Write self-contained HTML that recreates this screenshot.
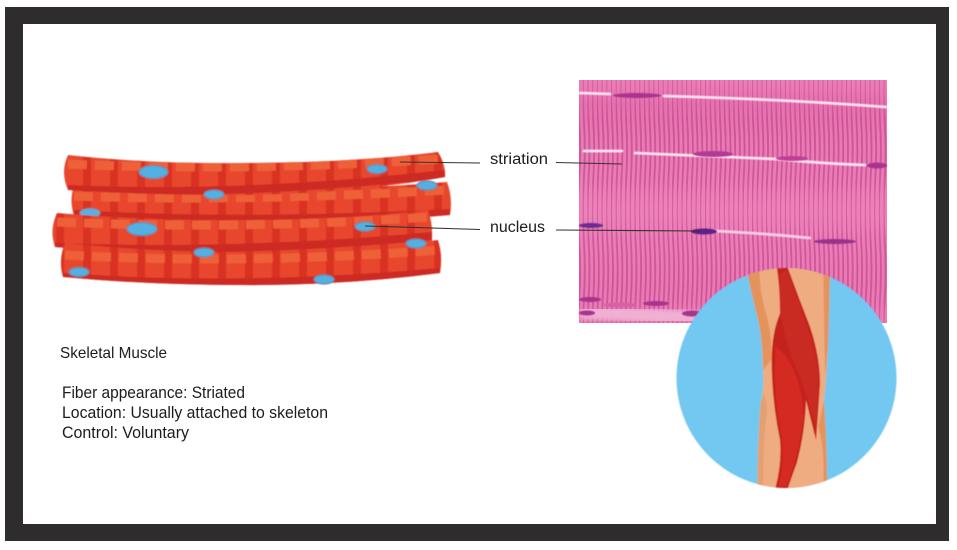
<!DOCTYPE html>
<html><head><meta charset="utf-8"><style>
html,body{margin:0;padding:0;background:#fff}
svg{display:block}
text{font-family:"Liberation Sans",sans-serif;fill:#1c1c1c}
</style></head><body>
<svg width="957" height="550" viewBox="0 0 957 550" xmlns="http://www.w3.org/2000/svg">
<defs>
<filter id="b1" x="-5%" y="-5%" width="110%" height="110%"><feGaussianBlur stdDeviation="0.8"/></filter>
<filter id="b2" x="-5%" y="-5%" width="110%" height="110%"><feGaussianBlur stdDeviation="0.4"/></filter>
<filter id="b3" x="-5%" y="-5%" width="110%" height="110%"><feGaussianBlur stdDeviation="0.55"/></filter>
<filter id="b5" x="-5%" y="-5%" width="110%" height="110%"><feGaussianBlur stdDeviation="0.3"/></filter>
<filter id="b4" x="-5%" y="-50%" width="110%" height="200%"><feGaussianBlur stdDeviation="2"/></filter>
<pattern id="st" width="27" height="100" patternUnits="userSpaceOnUse">
<rect width="27" height="100" fill="#e8462d"/><rect x="2" width="8" height="100" fill="#d93224"/>
</pattern>
<pattern id="pk" width="4.7" height="120" patternUnits="userSpaceOnUse">
<rect width="4.7" height="120" fill="#ec80b8"/>
<path d="M1 0Q3 30 1 60T1 120" fill="none" stroke="#cf5498" stroke-width="1.900"/>
</pattern>
<linearGradient id="pg" x1="0" y1="0" x2="0" y2="1">
<stop offset="0" stop-color="#ea7cb6" stop-opacity=".3"/>
<stop offset=".1" stop-color="#d24f98" stop-opacity=".3"/>
<stop offset=".25" stop-color="#d24f98" stop-opacity=".1"/>
<stop offset=".55" stop-color="#f08cc0" stop-opacity=".15"/>
<stop offset=".85" stop-color="#d24f98" stop-opacity=".12"/>
<stop offset="1" stop-color="#e07ab4" stop-opacity=".2"/>
</linearGradient>
<path id="f1" d="M68 155Q150 164 240 163Q350 163 438 152Q446 165 445 177Q350 194 240 195Q150 195 68 190Q60 172 68 155Z"/>
<path id="f2" d="M74 186Q150 190 240 190Q350 190 447 182Q453 198 450 215Q350 224 240 224Q150 224 74 216Q69 200 74 186Z"/>
<path id="f3" d="M57 213Q150 221 240 220Q340 220 428 210Q433 224 432 238Q432 246 432 250Q340 256 240 256Q150 256 55 247Q49 230 57 213Z"/>
<path id="f4" d="M65 243Q150 252 240 252Q340 252 438 240Q443 256 440 273Q340 286 240 285Q150 285 63 277Q58 260 65 243Z"/>
<clipPath id="c1"><use href="#f1"/></clipPath>
<clipPath id="c2"><use href="#f2"/></clipPath>
<clipPath id="c3"><use href="#f3"/></clipPath>
<clipPath id="c4"><use href="#f4"/></clipPath>
<clipPath id="cc"><circle cx="786.5" cy="378" r="110"/></clipPath>
</defs>

<rect x="5" y="7" width="944" height="534" fill="#2e2c2d"/>
<rect x="23" y="24" width="913" height="500" fill="#fff"/>

<!-- fibers -->
<g filter="url(#b3)">
<g clip-path="url(#c2)"><rect x="60" y="175" width="400" height="55" fill="url(#st)"/>
<path d="M74 196Q240 202 447 190" fill="none" stroke="#ee6038" stroke-width="9" stroke-dasharray="19 8"/>
<path d="M74 214Q240 224 450 213" fill="none" stroke="#cc2a20" stroke-width="8"/></g>
<g clip-path="url(#c1)"><rect x="55" y="145" width="400" height="55" fill="url(#st)"/>
<path d="M68 164Q240 172 440 159" fill="none" stroke="#ee6038" stroke-width="9" stroke-dasharray="19 8"/>
<path d="M68 189Q240 197 445 174" fill="none" stroke="#cc2a20" stroke-width="8"/></g>
<ellipse cx="90" cy="213" rx="10" ry="4.500" fill="#5cb0de" stroke="#7a90b0" stroke-width="1"/>
<g clip-path="url(#c3)"><rect x="45" y="205" width="400" height="55" fill="url(#st)"/>
<path d="M57 222Q240 230 430 217" fill="none" stroke="#ee6038" stroke-width="9" stroke-dasharray="19 8"/>
<path d="M55 247Q240 254 432 236" fill="none" stroke="#cc2a20" stroke-width="8"/></g>
<g clip-path="url(#c4)"><rect x="55" y="235" width="400" height="55" fill="url(#st)"/>
<path d="M65 255Q240 265 440 250" fill="none" stroke="#ee6038" stroke-width="9" stroke-dasharray="19 8"/>
<path d="M63 277Q240 290 440 272" fill="none" stroke="#cc2a20" stroke-width="8"/></g>
<g fill="#52b0e2" stroke="#6f86a8" stroke-width="1.200">
<ellipse cx="153.500" cy="172" rx="14.500" ry="6.500"/>
<ellipse cx="377" cy="169" rx="10" ry="4.500"/>
<ellipse cx="427" cy="185.500" rx="10" ry="4.500"/>
<ellipse cx="214" cy="194.500" rx="10" ry="4.500"/>
<ellipse cx="142" cy="229" rx="15" ry="6.500"/>
<ellipse cx="365" cy="226.500" rx="10" ry="4.500"/>
<ellipse cx="416" cy="243.500" rx="10" ry="4.500"/>
<ellipse cx="204" cy="252.500" rx="10" ry="4.500"/>
<ellipse cx="79" cy="272" rx="10" ry="4.500"/>
<ellipse cx="324" cy="279.500" rx="10" ry="4.500"/>
</g>
</g>

<!-- histology panel -->
<g filter="url(#b5)">
<rect x="579" y="80" width="308" height="243" fill="url(#pk)"/>
<rect x="579" y="80" width="308" height="243" fill="url(#pg)"/>
<path d="M580 312L700 318" stroke="#f0b0d4" stroke-width="14" filter="url(#b4)"/>
<g fill="none" stroke-linecap="round" stroke-opacity=".9" filter="url(#b3)">
<path d="M580 93L610 94M664 96Q780 99 886 107" stroke="#fdeef6" stroke-width="2.800"/>
<path d="M584 151L622 151M635 153Q700 156 775 159Q830 164 865 165" stroke="#fdeef6" stroke-width="2.800"/>
<path d="M715 231Q760 233 810 238" stroke="#f8d8ea" stroke-width="2.800"/>
</g>
<g fill="#a8348c" filter="url(#b3)">
<ellipse cx="637" cy="95.500" rx="24" ry="2.500"/>
<ellipse cx="713" cy="154" rx="20" ry="3" fill="#b03a96"/>
<ellipse cx="792" cy="158.500" rx="16" ry="2.500" fill="#c03c98"/>
<ellipse cx="877" cy="165.500" rx="10" ry="3"/>
<ellipse cx="591" cy="225.500" rx="12" ry="2.500" fill="#6c2a92"/>
<ellipse cx="704" cy="231.500" rx="13" ry="3" fill="#5c2286"/>
<ellipse cx="835" cy="241.500" rx="21" ry="2.500" fill="#98308c"/>
<ellipse cx="590" cy="299.500" rx="11" ry="2.500"/>
<ellipse cx="620" cy="305" rx="17" ry="2.500" fill="#d860a8"/>
<ellipse cx="656" cy="303.500" rx="13" ry="2.500"/>
<ellipse cx="587" cy="313" rx="8" ry="2.500"/>
<ellipse cx="692" cy="313.500" rx="10" ry="3"/>
</g>
</g>

<!-- leg circle -->
<g filter="url(#b2)">
<circle cx="786.5" cy="378" r="110" fill="#72c8f1"/>
<g clip-path="url(#cc)">
<g transform="translate(670 260) scale(.33333)">
<path d="M228 20L480 20Q478 150 474 260Q468 370 462 420Q470 540 472 700L262 700Q264 520 272 430Q284 380 278 320Q276 220 262 170Q244 100 228 20Z" fill="#efac80"/>
<path d="M228 20L268 20Q268 90 285 150Q308 220 303 300L280 330Q276 220 262 170Q244 100 228 20Z" fill="#e4935c"/>
<path d="M280 400Q296 430 288 480Q278 560 280 700L262 700Q264 520 272 430Z" fill="#e4a070"/>
<path d="M460 20L480 20Q478 150 474 260Q470 310 466 350Q462 200 460 20Z" fill="#e4935c"/>
<path d="M462 420Q470 540 472 700L458 700Q468 580 445 500Z" fill="#e4935c"/>
<path d="M320 20L352 20Q385 110 420 200Q450 290 450 370Q445 450 438 540Q425 490 408 420Q405 520 380 610Q365 650 352 690L316 685Q336 610 330 540Q305 420 305 300Q305 220 330 160Q330 80 320 20Z" fill="#c4211f"/>
<path d="M330 40L350 30Q385 120 415 210Q445 290 445 370Q442 430 437 500Q420 440 390 350Q345 260 332 160Z" fill="#c92a23"/>
<path d="M316 260Q350 280 375 340Q400 400 400 470Q390 570 350 680L325 680Q345 610 335 530Q308 400 316 260Z" fill="#d52c24"/>
</g>
</g>
</g>

<!-- leader lines -->
<g stroke="#333" stroke-width="1.100" fill="none">
<line x1="400" y1="162" x2="480" y2="163"/>
<line x1="556" y1="162.500" x2="622" y2="164"/>
<line x1="365" y1="226" x2="480" y2="229.500"/>
<line x1="556" y1="230" x2="700" y2="231"/>
</g>

<!-- labels -->
<g filter="url(#b5)">
<text x="490" y="164" font-size="15.500" textLength="58" lengthAdjust="spacingAndGlyphs">striation</text>
<text x="490" y="232" font-size="15.500" textLength="55" lengthAdjust="spacingAndGlyphs">nucleus</text>
<text x="60" y="358" font-size="16" textLength="107" lengthAdjust="spacingAndGlyphs">Skeletal Muscle</text>
<text x="62" y="398" font-size="16.500" textLength="183" lengthAdjust="spacingAndGlyphs">Fiber appearance: Striated</text>
<text x="62" y="418" font-size="16.500" textLength="266" lengthAdjust="spacingAndGlyphs">Location: Usually attached to skeleton</text>
<text x="62" y="438" font-size="16.500" textLength="127" lengthAdjust="spacingAndGlyphs">Control: Voluntary</text>
</g>
</svg>
</body></html>
